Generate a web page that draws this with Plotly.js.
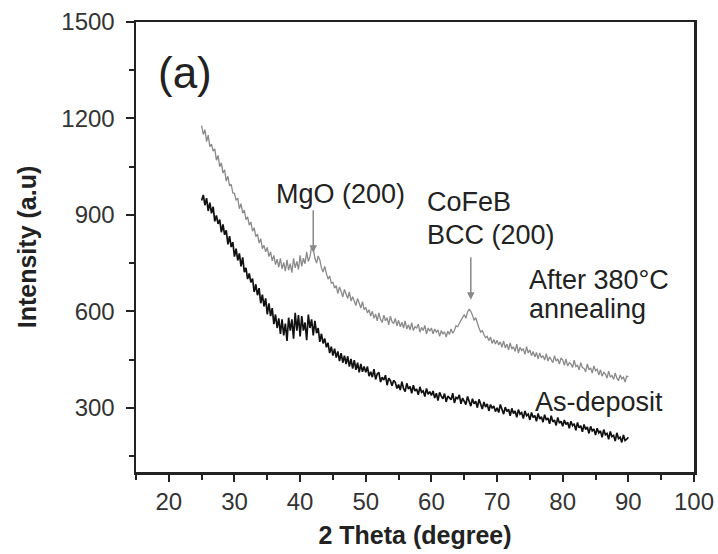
<!DOCTYPE html>
<html>
<head>
<meta charset="utf-8">
<script src="https://cdn.plot.ly/plotly-3.0.1.min.js"></script>
<style>html,body{margin:0;padding:0;background:#fff;}</style>
</head>
<body>
<div id="chart" style="width:718px;height:554px;"></div>
<script>
// Scan grid: 2-theta from 25 to 90 degree, 0.25 degree step
const scanStart = 25;
const scanStep = 0.25;

// As-deposit intensity (a.u)
const asDeposit = [
945,962,930,952,912,938,905,925,880,898,872,885,846,870,838,852,808,834,800,815,
770,795,758,780,740,768,722,735,700,718,690,702,660,684,650,672,625,652,615,640,
590,625,585,610,560,590,548,578,530,575,525,562,508,580,540,575,515,595,540,588,
522,585,540,565,510,590,548,575,525,570,532,548,505,530,500,515,488,502,470,490,
462,484,456,475,445,470,440,462,436,460,428,452,422,448,418,440,410,436,412,428,
410,428,398,412,395,420,388,405,410,380,395,386,401,370,392,384,368,385,379,360,
372,355,381,360,350,376,358,366,345,370,352,358,340,365,348,352,335,360,342,350,
338,352,330,345,322,348,336,328,344,318,336,330,325,345,315,332,328,340,312,330,
322,310,335,318,305,328,312,320,300,326,308,296,318,302,312,290,310,298,305,288,
300,285,310,292,280,302,288,295,275,298,282,290,270,294,280,285,266,290,275,280,
262,285,270,276,258,282,265,272,255,278,262,268,250,275,256,262,245,270,252,258,
242,262,248,255,236,258,244,250,230,254,238,244,225,248,232,240,220,242,228,234,
215,236,222,228,208,232,216,220,202,226,210,214,196,222,204,208,192,215,198,202,208];

// After 380°C annealing intensity (a.u)
const annealed = [
1178,1150,1165,1128,1148,1112,1120,1098,1105,1070,1085,1050,1062,1030,1040,1005,1020,990,995,968,
967,945,952,919,935,905,915,885,894,868,878,849,860,832,840,812,826,795,805,785,
799,770,785,757,774,745,762,737,765,732,752,725,760,728,748,720,765,735,755,730,
774,740,765,748,785,755,770,800,795,765,750,772,760,735,722,740,718,700,710,688,
690,672,680,655,676,662,645,668,650,640,660,632,645,628,618,640,622,610,630,605,
612,595,605,585,600,578,592,570,595,575,565,588,570,580,558,585,568,562,578,555,
572,552,566,548,570,545,558,542,565,540,552,548,560,535,550,540,556,530,548,538,
548,530,545,535,542,522,540,530,536,520,538,528,545,532,540,555,552,565,572,580,
590,578,598,606,600,588,572,580,560,548,535,540,528,518,522,508,520,500,512,498,
510,495,505,488,508,486,498,480,502,482,490,475,498,470,488,478,484,466,490,470,
480,462,475,458,472,452,470,455,462,448,468,445,458,450,440,462,445,452,436,455,
448,432,452,430,440,436,425,448,428,432,418,440,425,422,412,436,418,424,408,430,
415,420,402,418,398,410,405,392,414,396,400,388,408,392,384,402,390,395,380,398,396];

const twoTheta = asDeposit.map((_, i) => scanStart + i * scanStep);

const xTickVals = [20,30,40,50,60,70,80,90,100];
const yTickVals = [300,600,900,1200,1500];

const font = 'Liberation Sans, Arial, sans-serif';

const traces = [
  {
    x: twoTheta, y: annealed, type: 'scatter', mode: 'lines',
    line: {color: '#8a8a8a', width: 1.3},
    name: 'After 380°C annealing', showlegend: false, hoverinfo: 'skip'
  },
  {
    x: twoTheta, y: asDeposit, type: 'scatter', mode: 'lines',
    line: {color: '#111111', width: 1.7},
    name: 'As-deposit', showlegend: false, hoverinfo: 'skip'
  }
];

const annText = {family: font, size: 27, color: '#222'};
const layout = {
  width: 718, height: 554,
  margin: {l: 136, r: 24, t: 22, b: 82},
  paper_bgcolor: '#fff', plot_bgcolor: '#fff',
  font: {family: font, color: '#222'},
  xaxis: {
    range: [15, 100], tickvals: xTickVals, ticktext: xTickVals.map(String),
    ticks: 'outside', ticklen: 7, tickwidth: 2, tickcolor: '#222',
    showline: true, linecolor: '#222', linewidth: 2.5, mirror: true,
    showgrid: false, zeroline: false,
    tickfont: {family: font, size: 24, color: '#333'},
    minor: {dtick: 5, tick0: 0, ticks: 'outside', ticklen: 5, tickwidth: 2, tickcolor: '#222', showgrid: false},
    title: {text: '<b>2 Theta (degree)</b>', font: {family: font, size: 25, color: '#222'}, standoff: 12}
  },
  yaxis: {
    range: [100, 1500], tickvals: yTickVals, ticktext: yTickVals.map(String),
    ticks: 'outside', ticklen: 8, tickwidth: 2, tickcolor: '#222',
    showline: true, linecolor: '#222', linewidth: 2.5, mirror: true,
    showgrid: false, zeroline: false,
    tickfont: {family: font, size: 24, color: '#333'},
    ticklabelstandoff: 6,
    minor: {dtick: 150, tick0: 0, ticks: 'outside', ticklen: 5, tickwidth: 2, tickcolor: '#222', showgrid: false},
    title: {text: '<b>Intensity (a.u)</b>', font: {family: font, size: 25, color: '#222'}, standoff: 18}
  },
  annotations: [
    {x: 22.5, y: 1342, xref: 'x', yref: 'y', text: '(a)', showarrow: false, xanchor: 'center', yanchor: 'middle', font: {family: font, size: 44, color: '#222'}},
    {x: 36.0, y: 966, xref: 'x', yref: 'y', text: 'MgO (200)', showarrow: false, xanchor: 'left', yanchor: 'middle', font: annText},
    {x: 42.0, y: 782, ax: 42.0, ay: 919, xref: 'x', yref: 'y', axref: 'x', ayref: 'y', text: '', showarrow: true, arrowhead: 2, arrowsize: 1, arrowwidth: 1.5, arrowcolor: '#888'},
    {x: 59.0, y: 941, xref: 'x', yref: 'y', text: 'CoFeB', showarrow: false, xanchor: 'left', yanchor: 'middle', font: annText},
    {x: 59.0, y: 838, xref: 'x', yref: 'y', text: 'BCC (200)', showarrow: false, xanchor: 'left', yanchor: 'middle', font: annText},
    {x: 66.0, y: 636, ax: 66.0, ay: 773, xref: 'x', yref: 'y', axref: 'x', ayref: 'y', text: '', showarrow: true, arrowhead: 2, arrowsize: 1, arrowwidth: 1.5, arrowcolor: '#888'},
    {x: 74.5, y: 698, xref: 'x', yref: 'y', text: 'After 380°C', showarrow: false, xanchor: 'left', yanchor: 'middle', font: annText},
    {x: 74.5, y: 608, xref: 'x', yref: 'y', text: 'annealing', showarrow: false, xanchor: 'left', yanchor: 'middle', font: annText},
    {x: 75.5, y: 319, xref: 'x', yref: 'y', text: 'As-deposit', showarrow: false, xanchor: 'left', yanchor: 'middle', font: annText}
  ]
};

Plotly.newPlot('chart', traces, layout, {displayModeBar: false, staticPlot: true});
</script>
</body>
</html>
